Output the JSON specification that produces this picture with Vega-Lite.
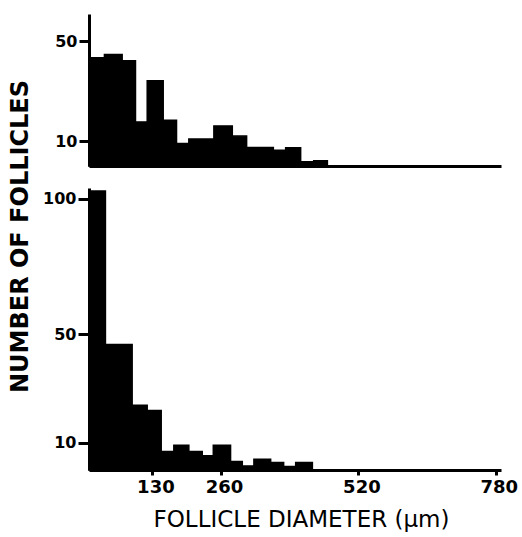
{
  "$schema": "https://vega.github.io/schema/vega-lite/v6.json",
  "padding": {"left": 8, "top": 14, "right": 5, "bottom": 5},
  "background": "white",
  "bounds": "flush",
  "spacing": 22,
  "config": {
    "view": {"stroke": null},
    "axis": {
      "grid": false,
      "domainColor": "black",
      "domainWidth": 3,
      "tickColor": "black",
      "tickWidth": 3,
      "labelColor": "black",
      "labelFont": "DejaVu Sans",
      "labelFontWeight": "bold",
      "titleColor": "black",
      "titleFont": "DejaVu Sans"
    }
  },
  "datasets": {
    "upper": [
      {"start": 10, "end": 39.2, "count": 43.4},
      {"start": 39.2, "end": 72.8, "count": 44.7},
      {"start": 72.8, "end": 98.0, "count": 42.2},
      {"start": 98.0, "end": 120.2, "count": 17.7},
      {"start": 120.2, "end": 150.5, "count": 34.2},
      {"start": 150.5, "end": 175.7, "count": 18.4},
      {"start": 175.7, "end": 199.0, "count": 9.0},
      {"start": 199.0, "end": 246.4, "count": 10.8},
      {"start": 246.4, "end": 281.3, "count": 16.1},
      {"start": 281.3, "end": 308.4, "count": 12.0},
      {"start": 308.4, "end": 359.0, "count": 7.4},
      {"start": 359.0, "end": 382.3, "count": 6.3},
      {"start": 382.3, "end": 410.7, "count": 7.3},
      {"start": 410.7, "end": 435.4, "count": 1.7},
      {"start": 435.4, "end": 461.3, "count": 2.1}
    ],
    "lower": [
      {"start": 10, "end": 41.1, "count": 102.9},
      {"start": 41.1, "end": 91.7, "count": 46.3},
      {"start": 91.7, "end": 120.2, "count": 23.9},
      {"start": 120.2, "end": 146.7, "count": 21.9},
      {"start": 146.7, "end": 170.6, "count": 6.8},
      {"start": 170.6, "end": 199.0, "count": 9.1},
      {"start": 199.0, "end": 224.4, "count": 6.8},
      {"start": 224.4, "end": 245.3, "count": 5.3},
      {"start": 245.3, "end": 278.0, "count": 9.1},
      {"start": 278.0, "end": 300.2, "count": 3.1},
      {"start": 300.2, "end": 322.2, "count": 1.5},
      {"start": 322.2, "end": 353.9, "count": 4.0},
      {"start": 353.9, "end": 378.5, "count": 2.8},
      {"start": 378.5, "end": 401.3, "count": 1.3},
      {"start": 401.3, "end": 432.9, "count": 2.8}
    ]
  },
  "vconcat": [
    {
      "width": 412,
      "height": 152,
      "data": {"name": "upper"},
      "mark": {"type": "bar", "color": "black", "stroke": "black", "strokeWidth": 1.5},
      "encoding": {
        "x": {
          "field": "start",
          "type": "quantitative",
          "scale": {"domain": [10, 790], "nice": false, "zero": false},
          "axis": {"labels": false, "ticks": false, "title": null}
        },
        "x2": {"field": "end"},
        "y": {
          "field": "count",
          "type": "quantitative",
          "scale": {"domain": [0, 61], "nice": false},
          "axis": {"values": [10, 50], "tickSize": 10, "labelPadding": 2, "labelFontSize": 16, "title": null}
        },
        "y2": {"datum": 0}
      }
    },
    {
      "width": 412,
      "height": 282,
      "data": {"name": "lower"},
      "mark": {"type": "bar", "color": "black", "stroke": "black", "strokeWidth": 1.5},
      "encoding": {
        "x": {
          "field": "start",
          "type": "quantitative",
          "scale": {"domain": [10, 790], "nice": false, "zero": false},
          "axis": {
            "values": [130, 260, 520, 780],
            "tickSize": 5,
            "labelPadding": 3,
            "labelOffset": 3,
            "labelFontSize": 18,
            "title": "FOLLICLE DIAMETER (µm)",
            "titleFontSize": 23,
            "titleFontWeight": "normal",
            "titlePadding": 12,
            "titleX": 212
          }
        },
        "x2": {"field": "end"},
        "y": {
          "field": "count",
          "type": "quantitative",
          "scale": {"domain": [0, 104], "nice": false},
          "axis": {
            "values": [10, 50, 100],
            "tickSize": 11,
            "labelPadding": 2,
            "labelFontSize": 16,
            "title": "NUMBER OF FOLLICLES",
            "titleFontSize": 24,
            "titleFontWeight": "bold",
            "titlePadding": 10,
            "titleY": 48
          }
        },
        "y2": {"datum": 0}
      }
    }
  ]
}
